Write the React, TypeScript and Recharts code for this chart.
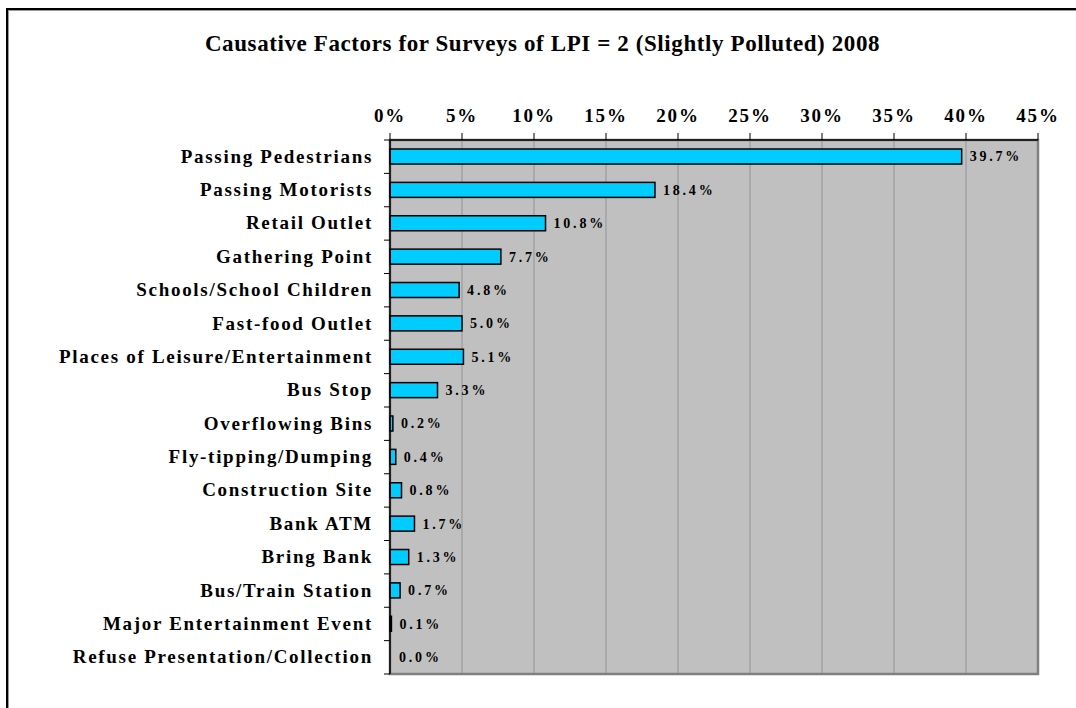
import React from 'react';
import {
  BarChart,
  Bar,
  XAxis,
  YAxis,
  CartesianGrid,
  LabelList,
  ReferenceArea,
} from 'recharts';

// categories top to bottom
const FACTORS = [
  'Passing Pedestrians',
  'Passing Motorists',
  'Retail Outlet',
  'Gathering Point',
  'Schools/School Children',
  'Fast-food Outlet',
  'Places of Leisure/Entertainment',
  'Bus Stop',
  'Overflowing Bins',
  'Fly-tipping/Dumping',
  'Construction  Site',
  'Bank ATM',
  'Bring Bank',
  'Bus/Train Station',
  'Major Entertainment Event',
  'Refuse Presentation/Collection',
];

// share of surveys (%)
const SHARES = [39.7, 18.4, 10.8, 7.7, 4.8, 5.0, 5.1, 3.3, 0.2, 0.4, 0.8, 1.7, 1.3, 0.7, 0.1, 0.0];

const PCT_TICKS = [0, 5, 10, 15, 20, 25, 30, 35, 40, 45];

const data = FACTORS.map((name, i) => ({ name, share: SHARES[i] }));

const SERIF = '"Liberation Serif", "Times New Roman", serif';

// category tick: label on the left plus a short tick mark on the band edges
const FactorTick = (props: any) => {
  const { x, y, payload, index } = props;
  const band = 534 / FACTORS.length;
  const axisX = x + 8;
  return (
    <g>
      <line x1={axisX - 6} x2={axisX} y1={y - band / 2} y2={y - band / 2} stroke="#000" strokeWidth={1} />
      {index === FACTORS.length - 1 && (
        <line x1={axisX - 6} x2={axisX} y1={y + band / 2} y2={y + band / 2} stroke="#000" strokeWidth={1} />
      )}
      <text
        x={x - 9}
        y={y}
        dy={6}
        textAnchor="end"
        fontFamily={SERIF}
        fontWeight="bold"
        fontSize={19}
        letterSpacing={1.7}
        fill="#000"
      >
        {payload.value}
      </text>
    </g>
  );
};

// zero-valued bars draw nothing, but keep their label
const FactorBar = (props: any) => {
  const { x, y, width, height, payload } = props;
  if (!payload || payload.share === 0) return <g />;
  return <rect x={x} y={y} width={width} height={height} fill="#00CCFF" stroke="#000" strokeWidth={1.5} />;
};

export default function App() {
  return (
    <div style={{ position: 'absolute', left: 0, top: 0, width: 1076, height: 708, background: '#fff', overflow: 'hidden' }}>
      <div
        style={{
          position: 'absolute',
          left: 6,
          top: 8,
          width: 1100,
          height: 720,
          border: '2px solid #000',
          boxShadow: 'inset 1px 1px 0 #999',
        }}
      />
      <div
        style={{
          position: 'absolute',
          left: 0,
          top: 31,
          width: 1085,
          textAlign: 'center',
          fontFamily: SERIF,
          fontWeight: 'bold',
          fontSize: 23,
          letterSpacing: 0.6,
          whiteSpace: 'nowrap',
        }}
      >
        Causative Factors for Surveys of LPI = 2 (Slightly Polluted) 2008
      </div>
      <div style={{ position: 'absolute', left: 0, top: 0 }}>
        <BarChart
          width={1076}
          height={708}
          data={data}
          layout="vertical"
          margin={{ top: 110, right: 38, bottom: 34, left: 0 }}
          barCategoryGap="27%"
        >
          <CartesianGrid horizontal={false} fill="#C0C0C0" stroke="#9a9a9a" strokeWidth={1.2} />
          <ReferenceArea x1={0} x2={45} fill="none" stroke="#808080" strokeWidth={2.5} ifOverflow="visible" />
          <XAxis
            type="number"
            orientation="top"
            height={30}
            domain={[0, 45]}
            ticks={PCT_TICKS}
            tickFormatter={(v: number) => `${v}%`}
            interval={0}
            axisLine={{ stroke: '#000', strokeWidth: 1.5 }}
            tickLine={{ stroke: '#000' }}
            tickSize={7}
            tickMargin={11}
            tick={{ fontFamily: SERIF, fontWeight: 'bold', fontSize: 19, fill: '#000', letterSpacing: 1.8 }}
          />
          <YAxis
            type="category"
            dataKey="name"
            width={390}
            interval={0}
            axisLine={{ stroke: '#000', strokeWidth: 1.5 }}
            tickLine={false}
            tick={<FactorTick />}
          />
          <Bar dataKey="share" minPointSize={1} shape={<FactorBar />} isAnimationActive={false}>
            <LabelList
              dataKey="share"
              position="right"
              offset={8}
              formatter={(v: any) => `${Number(v).toFixed(1)}%`}
              style={{ fontFamily: SERIF, fontWeight: 'bold', fontSize: 14, fill: '#000', letterSpacing: 2.8 }}
            />
          </Bar>
        </BarChart>
      </div>
    </div>
  );
}
